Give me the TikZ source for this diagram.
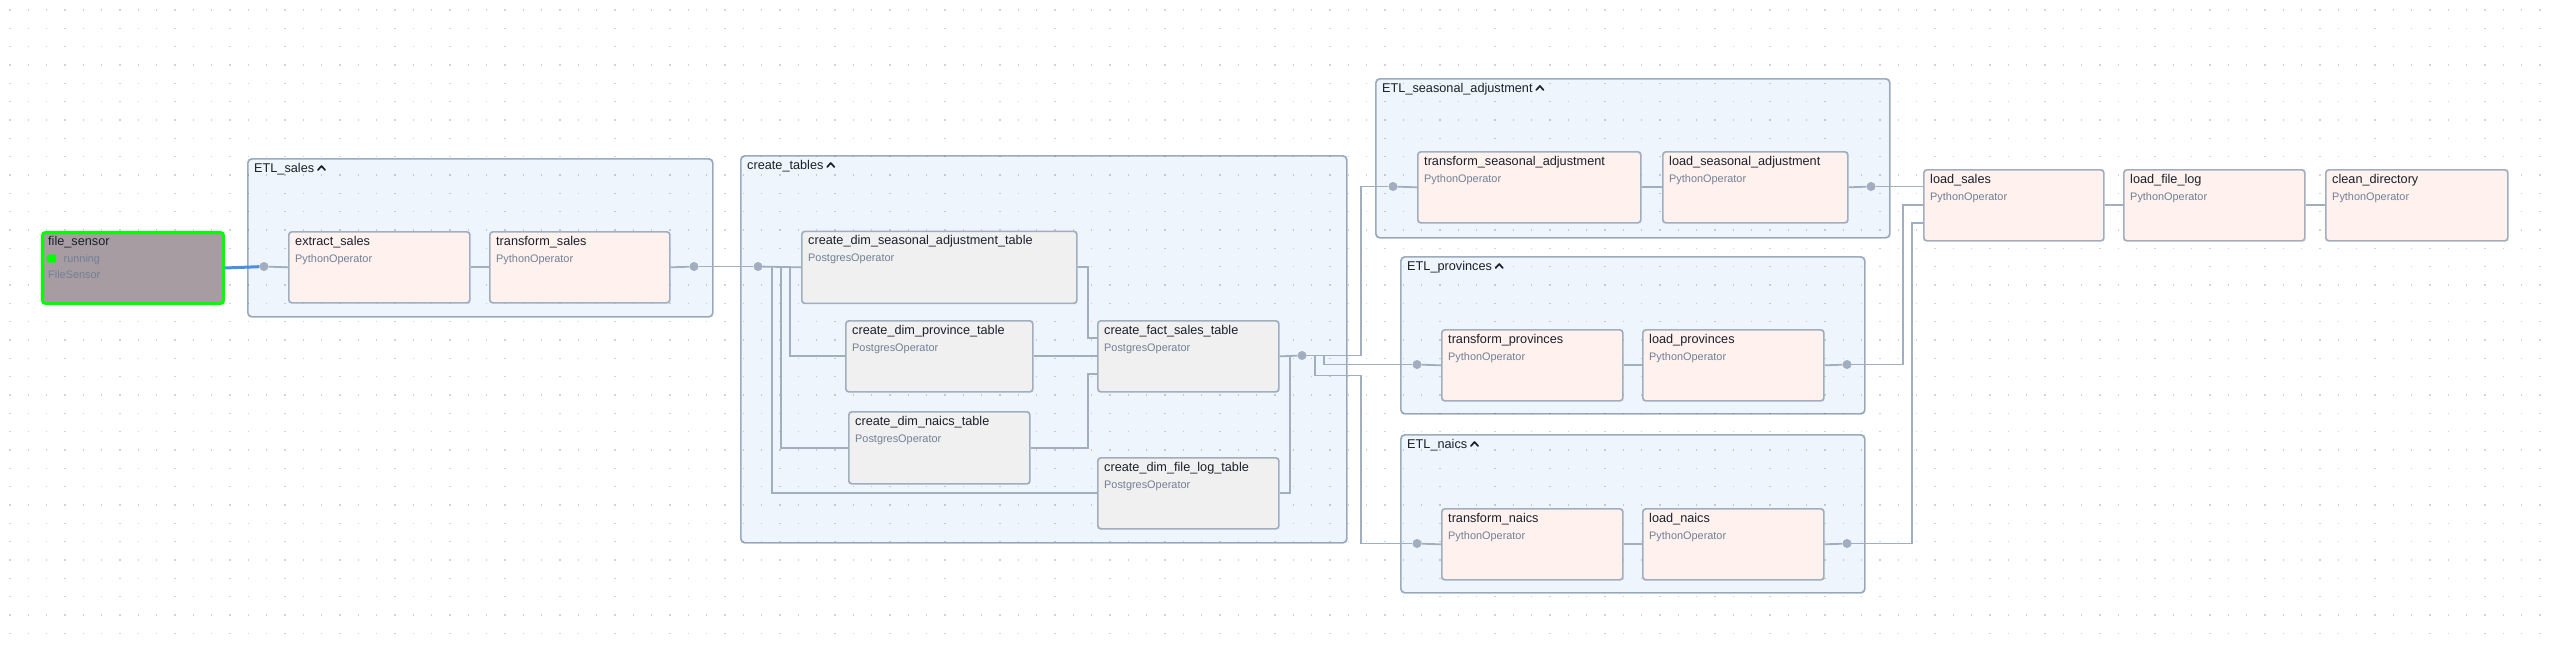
\documentclass[tikz,border=0pt]{standalone}
\usepackage{fontspec}
\setmainfont{Liberation Sans}
\usetikzlibrary{positioning}
\definecolor{edgegray}{HTML}{A0AEC0}
\definecolor{grpblue}{HTML}{EEF5FC}
\definecolor{pyfill}{HTML}{FEF1EE}
\definecolor{pgfill}{HTML}{F0F0F0}
\definecolor{sensorfill}{HTML}{A69CA2}
\definecolor{runninggreen}{HTML}{00FF00}
\definecolor{runblue}{HTML}{4A90E2}
\definecolor{titlecol}{HTML}{1A202C}
\definecolor{subcol}{HTML}{718096}
\definecolor{gridgray}{HTML}{D2D2D2}

\begin{document}
\begin{tikzpicture}[x = 1pt, y = -1pt,
    grp/.style = { draw = edgegray, fill = grpblue, blend mode = multiply, line width = 1.7pt, rounded corners = 4pt, anchor = north west, inner sep = 0pt },
    task/.style = { draw = edgegray, line width = 1.7pt, rounded corners = 3pt, anchor = north west, inner sep = 0pt, minimum height = 71pt },
    pytask/.style = { task, fill = pyfill },
    pgtask/.style = { task, fill = pgfill },
    tasktitle/.style = { anchor = base west, inner sep = 0pt, xshift = 7pt, yshift = -14pt, text = titlecol, font = \fontsize{12.7}{14}\selectfont },
    tasksub/.style = { anchor = base west, inner sep = 0pt, xshift = 7pt, yshift = -31pt, text = subcol, font = \fontsize{10.9}{12}\selectfont },
    link/.style = { draw = edgegray, line width = 1.8pt },
    runlink/.style = { draw = runblue, line width = 3pt },
    joint/.style = { circle, fill = edgegray, inner sep = 0pt, minimum size = 9pt },
    chevron/.style = { draw = titlecol, line width = 1.7pt, line cap = round, line join = round },
    dotgrid/.style = { draw = gridgray, line width = 1.3pt, dash pattern = on 1.3pt off 17.033pt }
  ]
      \fill[white] (0,0) rectangle (2550,645);
      \useasboundingbox (0,0) rectangle (2550,645);
      \foreach \gy in {10,28.333,...,645}
        \draw[dotgrid] (9.35,\gy) -- (2550,\gy);

      \node[grp, minimum width = 465pt, minimum height = 158pt, label = {[tasktitle, name = salesl]north west:ETL\_sales}] (salesgrp) at (247,158) {};
      \node[grp, minimum width = 606pt, minimum height = 387pt, label = {[tasktitle, name = tablesl]north west:create\_tables}] (tablesgrp) at (740,155) {};
      \node[grp, minimum width = 514pt, minimum height = 159pt, label = {[tasktitle, name = seasonall]north west:ETL\_seasonal\_adjustment}] (seasonalgrp) at (1375,78) {};
      \node[grp, minimum width = 464pt, minimum height = 157pt, label = {[tasktitle, name = provincesl]north west:ETL\_provinces}] (provincesgrp) at (1400,256) {};
      \node[grp, minimum width = 464pt, minimum height = 158pt, label = {[tasktitle, name = naicsl]north west:ETL\_naics}] (naicsgrp) at (1400,434) {};
      \foreach \grplabel in {salesl, tablesl, seasonall, provincesl, naicsl}
        \draw[chevron] ([shift = {(3.5,-2)}]\grplabel.base east) -- ++(3.6,-4) -- ++(3.6,4);

      \node[task, fill = sensorfill, draw = runninggreen, line width = 3pt, minimum width = 181pt,
        label = {[tasktitle]north west:file\_sensor},
        label = {[tasksub, xshift = 15.5pt]north west:running},
        label = {[tasksub, yshift = -16pt]north west:FileSensor}] (filesensor) at (41,231) {};
      \fill[runninggreen, rounded corners = 1pt] ([shift = {(6,23.5)}]filesensor.north west) rectangle ++(9,8);

      \node[pytask, minimum width = 181pt, label = {[tasktitle]north west:extract\_sales}, label = {[tasksub]north west:PythonOperator}] (extract) at (288,231) {};
      \node[pytask, minimum width = 180pt, label = {[tasktitle]north west:transform\_sales}, label = {[tasksub]north west:PythonOperator}] (transform) at (489,231) {};

      \node[pgtask, minimum width = 275pt, minimum height = 72pt, label = {[tasktitle]north west:create\_dim\_seasonal\_adjustment\_table}, label = {[tasksub]north west:PostgresOperator}] (seastbl) at (801,230.5) {};
      \node[pgtask, minimum width = 187pt, label = {[tasktitle]north west:create\_dim\_province\_table}, label = {[tasksub]north west:PostgresOperator}] (provtbl) at (845,320) {};
      \node[pgtask, minimum width = 181pt, label = {[tasktitle]north west:create\_fact\_sales\_table}, label = {[tasksub]north west:PostgresOperator}] (facttbl) at (1097,320) {};
      \node[pgtask, minimum width = 181pt, minimum height = 72pt, label = {[tasktitle]north west:create\_dim\_naics\_table}, label = {[tasksub]north west:PostgresOperator}] (naicstbl) at (848,411) {};
      \node[pgtask, minimum width = 181pt, label = {[tasktitle]north west:create\_dim\_file\_log\_table}, label = {[tasksub]north west:PostgresOperator}] (filelogtbl) at (1097,457) {};

      \node[pytask, minimum width = 223pt, label = {[tasktitle]north west:transform\_seasonal\_adjustment}, label = {[tasksub]north west:PythonOperator}] (transformsa) at (1417,151) {};
      \node[pytask, minimum width = 185pt, label = {[tasktitle]north west:load\_seasonal\_adjustment}, label = {[tasksub]north west:PythonOperator}] (loadsa) at (1662,151) {};
      \node[pytask, minimum width = 181pt, label = {[tasktitle]north west:transform\_provinces}, label = {[tasksub]north west:PythonOperator}] (transformprov) at (1441,329) {};
      \node[pytask, minimum width = 181pt, label = {[tasktitle]north west:load\_provinces}, label = {[tasksub]north west:PythonOperator}] (loadprov) at (1642,329) {};
      \node[pytask, minimum width = 181pt, label = {[tasktitle]north west:transform\_naics}, label = {[tasksub]north west:PythonOperator}] (transformnaics) at (1441,508) {};
      \node[pytask, minimum width = 181pt, label = {[tasktitle]north west:load\_naics}, label = {[tasksub]north west:PythonOperator}] (loadnaics) at (1642,508) {};

      \node[pytask, minimum width = 180pt, label = {[tasktitle]north west:load\_sales}, label = {[tasksub]north west:PythonOperator}] (loadsales) at (1923,169) {};
      \node[pytask, minimum width = 181pt, label = {[tasktitle]north west:load\_file\_log}, label = {[tasksub]north west:PythonOperator}] (loadfilelog) at (2123,169) {};
      \node[pytask, minimum width = 182pt, label = {[tasktitle]north west:clean\_directory}, label = {[tasksub]north west:PythonOperator}] (cleandir) at (2325,169) {};

      \node[joint] (salesin) at (264,266.5) {};
      \node[joint] (salesout) at (694,266.5) {};
      \node[joint] (ctin) at (758,266.5) {};
      \node[joint] (ctout) at (1302,355.5) {};
      \node[joint] (sain) at (1393,186.5) {};
      \node[joint] (saout) at (1871,186.5) {};
      \node[joint] (provin) at (1417,364.5) {};
      \node[joint] (provout) at (1847,364.5) {};
      \node[joint] (naicsin) at (1417,543.5) {};
      \node[joint] (naicsout) at (1847,543.5) {};

      \draw[runlink] (filesensor.east) -- (salesin);
      \draw[link] (salesin) -- (extract.west);
      \draw[link] (extract.east) -- (transform.west);
      \draw[link] (transform.east) -- (salesout);
      \draw[link] (salesout) -- (ctin);

      \draw[link] (ctin) -- (seastbl.west);
      \draw[link] (ctin.center) -- ++(32,0) |- (provtbl.west);
      \draw[link] (ctin.center) -- ++(23,0) |- (naicstbl.west);
      \draw[link] (ctin.center) -- ++(14,0) |- (filelogtbl.west);
      \draw[link] (seastbl.east) -- ++(10,0) |- ([yshift = 18pt]facttbl.west);
      \draw[link] (provtbl.east) -- (facttbl.west);
      \draw[link] (naicstbl.east) -- ++(57,0) |- ([yshift = -18pt]facttbl.west);
      \draw[link] (facttbl.east) -- (ctout);
      \draw[link] (filelogtbl.east) -- ++(10,0) |- (ctout);

      \draw[link] (ctout.center) -- ++(59,0) |- (sain);
      \draw[link] (ctout.center) -- ++(22,0) |- (provin);
      \draw[link] (ctout.center) -- ++(13,0) |- ++(46,20) |- (naicsin);

      \draw[link] (sain) -- (transformsa.west);
      \draw[link] (transformsa.east) -- (loadsa.west);
      \draw[link] (loadsa.east) -- (saout);
      \draw[link] (provin) -- (transformprov.west);
      \draw[link] (transformprov.east) -- (loadprov.west);
      \draw[link] (loadprov.east) -- (provout);
      \draw[link] (naicsin) -- (transformnaics.west);
      \draw[link] (transformnaics.east) -- (loadnaics.west);
      \draw[link] (loadnaics.east) -- (naicsout);

      \draw[link] (saout) -- (saout -| loadsales.west);
      \draw[link] (provout.center) -- ++(56,0) |- (loadsales.west);
      \draw[link] (naicsout.center) -- ++(65,0) |- ([yshift = -18pt]loadsales.west);
      \draw[link] (loadsales.east) -- (loadfilelog.west);
      \draw[link] (loadfilelog.east) -- (cleandir.west);
    \end{tikzpicture}
\end{document}
